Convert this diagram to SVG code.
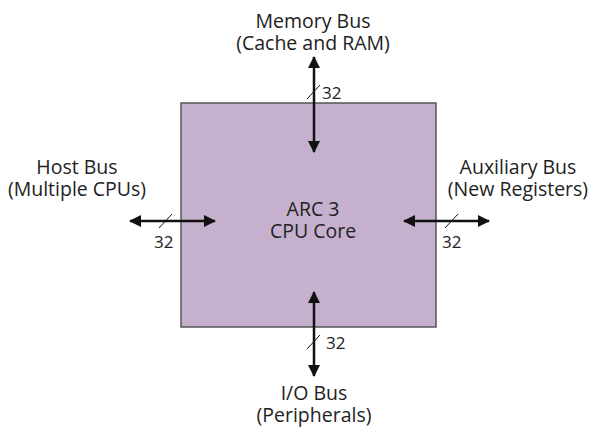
<svg xmlns="http://www.w3.org/2000/svg" width="590" height="428" viewBox="0 0 590 428">
<style>
text{font-family:"Open Sans","Liberation Sans",sans-serif;font-size:19.5px;fill:#222;text-anchor:middle}
.n{font-size:17px;text-anchor:start}
.bus{stroke:#111;stroke-width:2.5;fill:none}
.tick{stroke:#111;stroke-width:1;fill:none}
</style>
<defs>
<marker id="ah" viewBox="0 0 12 12" refX="11" refY="6" markerWidth="12" markerHeight="12" markerUnits="userSpaceOnUse" orient="auto-start-reverse">
<path d="M0,0 L12,6 L0,12 Z" fill="#111"/>
</marker>
</defs>
<rect width="590" height="428" fill="#fff"/>
<g id="core">
<rect x="181" y="103" width="255" height="224" fill="#c5b1cd" stroke="#555" stroke-width="1.5"/>
<text x="313" y="216">ARC 3</text>
<text x="313" y="238">CPU Core</text>
</g>
<g id="memory-bus">
<text x="313" y="28">Memory Bus</text>
<text x="313" y="50">(Cache and RAM)</text>
</g>
<g id="host-bus">
<text x="77" y="174">Host Bus</text>
<text x="77" y="196">(Multiple CPUs)</text>
</g>
<g id="aux-bus">
<text x="518" y="174">Auxiliary Bus</text>
<text x="518" y="196">(New Registers)</text>
</g>
<g id="io-bus">
<text x="314" y="400">I/O Bus</text>
<text x="314" y="422">(Peripherals)</text>
</g>
<g id="connectors">
<line class="bus" x1="314" y1="57" x2="314" y2="152" marker-start="url(#ah)" marker-end="url(#ah)"/>
<line class="tick" x1="307" y1="99" x2="320" y2="85"/>
<text class="n" x="322" y="99">32</text>
<line class="bus" x1="130" y1="221" x2="215" y2="221" marker-start="url(#ah)" marker-end="url(#ah)"/>
<line class="tick" x1="159" y1="228" x2="172" y2="214"/>
<text class="n" x="154" y="248">32</text>
<line class="bus" x1="404" y1="221" x2="489" y2="221" marker-start="url(#ah)" marker-end="url(#ah)"/>
<line class="tick" x1="445" y1="228" x2="458" y2="214"/>
<text class="n" x="442" y="248">32</text>
<line class="bus" x1="314" y1="292" x2="314" y2="376" marker-start="url(#ah)" marker-end="url(#ah)"/>
<line class="tick" x1="307" y1="349" x2="320" y2="335"/>
<text class="n" x="326" y="349">32</text>
</g>
</svg>
